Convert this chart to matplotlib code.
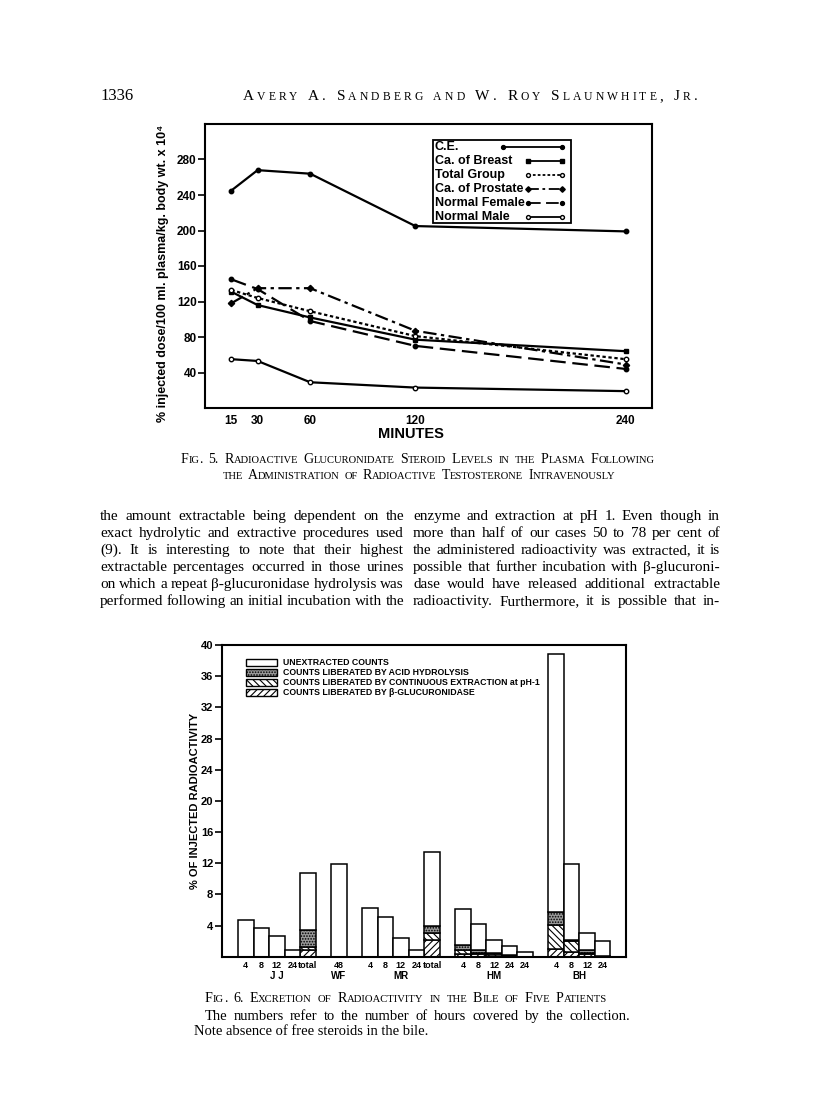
import matplotlib
matplotlib.use('Agg')
import matplotlib.pyplot as plt
from matplotlib.patches import Rectangle
from matplotlib.transforms import blended_transform_factory

# ---- Fig. 5 data ----
minutes = [15, 30, 60, 120, 240]
ce = [245, 268, 264, 205, 199]
breast = [131, 116, 102, 77, 64]
total_group = [133, 124, 109, 81, 55]
prostate = [118, 135, 135, 87, 49]
female = [145, 134, 98, 70, 44]
male = [55, 53, 29, 23, 19]
series_names = ['C.E.', 'Ca. of Breast', 'Total Group', 'Ca. of Prostate',
                'Normal Female', 'Normal Male']

# ---- Fig. 6 data ----
patients = ['J J', 'WF', 'MR', 'HM', 'BH']
hours = [['4', '8', '12', '24', 'total'], ['48'], ['4', '8', '12', '24', 'total'],
         ['4', '8', '12', '24', '24'], ['4', '8', '12', '24']]
bar_total = [[4.7, 3.7, 2.6, 0.8, 10.8], [11.9], [6.3, 5.1, 2.4, 0.8, 13.4],
             [6.1, 4.2, 2.2, 1.35, 0.65], [38.9, 11.9, 3.0, 2.0]]
glucuronidase = [[0, 0, 0, 0, 0.9], [0], [0, 0, 0, 0, 2.2],
                 [0.4, 0.3, 0.15, 0.1, 0], [1.0, 0.6, 0.3, 0.1]]
continuous = [[0, 0, 0, 0, 0.3], [0], [0, 0, 0, 0, 0.8],
              [0.5, 0.2, 0.15, 0, 0], [3.1, 1.4, 0.2, 0.05]]
acid = [[0, 0, 0, 0, 2.2], [0], [0, 0, 0, 0, 0.9],
        [0.6, 0.3, 0.2, 0.1, 0], [1.6, 0.1, 0.35, 0]]
legend6 = ['UNEXTRACTED COUNTS', 'COUNTS LIBERATED BY ACID HYDROLYSIS',
           'COUNTS LIBERATED BY CONTINUOUS EXTRACTION at pH-1',
           'COUNTS LIBERATED BY \u03b2-GLUCURONIDASE']

left_col = ['the amount extractable being dependent on the',
            'exact hydrolytic and extractive procedures used',
            '(9). It is interesting to note that their highest',
            'extractable percentages occurred in those urines',
            'on which a repeat \u03b2-glucuronidase hydrolysis was',
            'performed following an initial incubation with the']
right_col = ['enzyme and extraction at pH 1. Even though in',
             'more than half of our cases 50 to 78 per cent of',
             'the administered radioactivity was extracted, it is',
             'possible that further incubation with \u03b2-glucuroni-',
             'dase would have released additional extractable',
             'radioactivity. Furthermore, it is possible that in-']

SANS = ['Liberation Sans', 'DejaVu Sans']
SERIF = ['Liberation Serif', 'DejaVu Serif']

W, H = 816, 1109
fig = plt.figure(figsize=(W / 100, H / 100), dpi=100)
fig.patch.set_facecolor('white')

# full-page axes in pixel units (y downwards) for the printed text
page = fig.add_axes([0, 0, 1, 1])
page.set_xlim(0, W)
page.set_ylim(H, 0)
page.axis('off')


def box(l, t, r, b):
    return [l / W, 1 - b / H, (r - l) / W, (b - t) / H]


def small_caps(x, y, text, size, word_gap=0.35, track=None):
    # big capitals, lower case set as smaller capitals; track -> letter by letter
    pieces = []
    for wi, word in enumerate(text.split(' ')):
        first = True
        for ch in word:
            sm = ch.islower()
            if track is None and pieces and not first and pieces[-1][1] == sm:
                pieces[-1][0] += ch
            else:
                gap = (size * word_gap if (first and wi > 0) else 0) + \
                      (track or 0) * (0 if first and wi == 0 else 1)
                pieces.append([ch, sm, gap])
            first = False
    prev = None
    for s, sm, gap in pieces:
        fs = size * 0.76 if sm else size
        if prev is None:
            prev = page.text(x, y, s.upper(), fontsize=fs, family=SERIF,
                             va='baseline', ha='left')
        else:
            prev = page.annotate(s.upper(), xy=(1, y), xycoords=(prev, 'data'),
                                 xytext=(gap, 0), textcoords='offset points',
                                 fontsize=fs, family=SERIF, va='baseline',
                                 ha='left', annotation_clip=False)


def justify(x0, x1, y, line, size):
    words = line.split()
    arts = [page.text(0, y, w, fontsize=size, family=SERIF, va='baseline', ha='left')
            for w in words]
    r = fig.canvas.get_renderer()
    ws = [a.get_window_extent(r).width for a in arts]
    gap = ((x1 - x0) - sum(ws)) / max(len(words) - 1, 1)
    x = x0
    for a, w in zip(arts, ws):
        a.set_x(x)
        x += w + gap


# ---------------- page header ----------------
page.text(100, 100, '1336', fontsize=12, family=SERIF, va='baseline')
small_caps(243, 100, 'Avery A. Sandberg and W. Roy Slaunwhite, Jr.', 11,
           word_gap=0.5, track=2.2)

# ---------------- Fig. 5 ----------------
ax1 = fig.add_axes(box(205, 124, 652, 408))
styles = [('-', 'o', 'k'), ('-', 's', 'k'), ((0, (1.5, 1.2)), 'o', 'w'),
          ((0, (6, 2, 1.5, 2)), 'D', 'k'), ((0, (7, 3)), 'o', 'k'), ('-', 'o', 'w')]
all_series = [ce, breast, total_group, prostate, female, male]
for name, vals, (ls, mk, mfc) in zip(series_names, all_series, styles):
    ax1.plot(minutes, vals, color='k', lw=1.6, ls=ls, marker=mk, ms=3.2,
             mfc=mfc, mec='k', mew=1, label=name)
ax1.set_xlim(0, 255)
ax1.set_ylim(0, 320)
ax1.set_xticks(minutes)
ax1.set_xticklabels([str(m) for m in minutes])
ax1.set_yticks(range(40, 281, 40))
ax1.tick_params(axis='y', direction='out', length=5, width=1.2, labelsize=8.5, pad=1)
ax1.tick_params(axis='x', length=0, labelsize=8.5, pad=5)
for lab in ax1.get_xticklabels() + ax1.get_yticklabels():
    lab.set_fontweight('bold')
    lab.set_family(SANS)
for sp in ax1.spines.values():
    sp.set_linewidth(1.5)

# legend box: text on the left, sample line on the right
ax1.add_patch(Rectangle((0.5107, 0.650), 0.308, 0.293, transform=ax1.transAxes,
                        facecolor='white', edgecolor='k', lw=1.3, zorder=3))
for i, (name, (ls, mk, mfc)) in enumerate(zip(series_names, styles)):
    yc = (408 - (147 + i * 13.9)) / 284
    ax1.text(0.5145, yc, name, transform=ax1.transAxes, ha='left', va='center',
             fontsize=9, fontweight='bold', family=SANS, zorder=4)
    x0 = 0.6667 if i == 0 else 0.7226
    ax1.plot([x0, 0.7987], [yc, yc], transform=ax1.transAxes, color='k', lw=1.3,
             ls=ls, marker=mk, ms=2.8, mfc=mfc, mec='k', mew=1, clip_on=False,
             zorder=4)

page.text(163, 273, '% injected dose/100 ml. plasma/kg. body wt. x 10\u2074',
          rotation=90, ha='center', va='center', fontsize=9, fontweight='bold',
          family=SANS)
page.text(411, 434, 'MINUTES', ha='center', va='center', fontsize=10.5,
          fontweight='bold', family=SANS)

small_caps(181, 463, 'Fig. 5.  Radioactive Glucuronidate Steroid Levels in the Plasma Following',
           10, word_gap=0.4)
small_caps(223, 479, 'the Administration of Radioactive Testosterone Intravenously',
           10, word_gap=0.35)

# ---------------- body text ----------------
for i, line in enumerate(left_col):
    justify(100, 404, 520 + i * 17, line, 11)
for i, line in enumerate(right_col):
    justify(413, 720, 520 + i * 17, line, 11)

# ---------------- Fig. 6 ----------------
ax2 = fig.add_axes(box(221.7, 645, 626, 956.7))
pos, labels, centers = [], [], []
x = 1.5
for hs in hours:
    start = x
    for h in hs:
        pos.append(x)
        labels.append(h)
        x += 1
    centers.append((start + x - 1) / 2)
    x += 1

flat = lambda rows: [v for row in rows for v in row]
tot, gl, co, ac = flat(bar_total), flat(glucuronidase), flat(continuous), flat(acid)
une = [t - g - c - a for t, g, c, a in zip(tot, gl, co, ac)]

seg_styles = [(gl, 'white', '/////'), (co, 'white', '\\\\\\\\\\'),
              (ac, '#9a9a9a', '......'), (une, 'white', None)]
plt.rcParams['hatch.linewidth'] = 0.8
bottom = [0.0] * len(pos)
for vals, fc, hatch in seg_styles:
    ax2.bar(pos, vals, width=1.0, bottom=bottom, facecolor=fc, edgecolor='k',
            hatch=hatch, linewidth=1.1)
    bottom = [b + v for b, v in zip(bottom, vals)]

ax2.set_xlim(-0.05, 26.0)
ax2.set_ylim(0, 40)
ax2.set_yticks(range(4, 41, 4))
ax2.set_xticks(pos)
ax2.set_xticklabels(labels)
ax2.tick_params(axis='y', direction='out', length=5, width=1.2, labelsize=8, pad=1)
ax2.tick_params(axis='x', length=0, labelsize=6.5, pad=3)
for lab in ax2.get_xticklabels() + ax2.get_yticklabels():
    lab.set_fontweight('bold')
    lab.set_family(SANS)
for sp in ax2.spines.values():
    sp.set_linewidth(1.5)
trans = blended_transform_factory(ax2.transData, ax2.transAxes)
for name, c in zip(patients, centers):
    ax2.text(c, -0.062, name, transform=trans, ha='center', va='center',
             fontsize=7, fontweight='bold', family=SANS)

leg_styles = [('white', None), ('#9a9a9a', '......'), ('white', '\\\\\\\\\\'),
              ('white', '/////')]
for i, (txt, (fc, hatch)) in enumerate(zip(legend6, leg_styles)):
    yc = 0.944 - i * 0.032
    ax2.add_patch(Rectangle((0.0594, yc - 0.011), 0.0767, 0.022, transform=ax2.transAxes,
                            facecolor=fc, edgecolor='k', hatch=hatch, lw=1.0))
    ax2.text(0.152, yc, txt, transform=ax2.transAxes, ha='left', va='center',
             fontsize=6.3, fontweight='bold', family=SANS)

page.text(195, 801, '% OF INJECTED RADIOACTIVITY', rotation=90, ha='center',
          va='center', fontsize=8, fontweight='bold', family=SANS)

small_caps(205, 1002, 'Fig. 6.  Excretion of Radioactivity in the Bile of Five Patients',
           10.1, word_gap=0.42)
justify(205, 630, 1020, 'The numbers refer to the number of hours covered by the collection.', 10.5)
page.text(194, 1035, 'Note absence of free steroids in the bile.', fontsize=10.5,
          family=SERIF, va='baseline')

fig.savefig('out.png', dpi=100)
